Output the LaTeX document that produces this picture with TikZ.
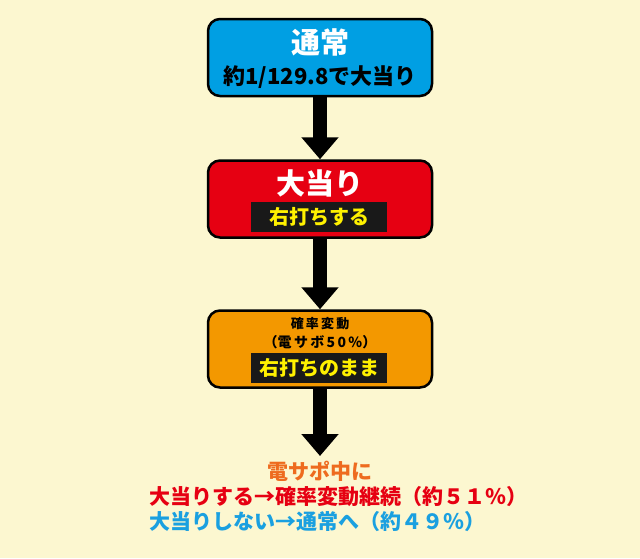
\documentclass[tikz,border=0pt]{standalone}
\usepackage{fontspec}
\setmainfont{Noto Sans CJK JP}
\usetikzlibrary{arrows.meta}
\definecolor{bg}{HTML}{FCF7D0}
\definecolor{cblue}{HTML}{009FE3}
\definecolor{cred}{HTML}{E60012}
\definecolor{corange}{HTML}{F39800}
\definecolor{cyel}{HTML}{FFF100}
\definecolor{torange}{HTML}{EE6B1E}
\definecolor{tblue}{HTML}{1AA0E0}
\begin{document}
\begin{tikzpicture}[x=1pt,y=-1pt,
  box/.style={draw=black,line width=2.5pt,rounded corners=12pt,minimum width=224pt,minimum height=77pt},
  lab/.style={fill=black!90,text=cyel,font=\bfseries\fontsize{20}{22}\selectfont,minimum width=136pt,minimum height=30pt,inner sep=0pt},
  arr/.style={line width=14pt,-{Triangle[width=36pt,length=22pt]}},
  bot/.style={font=\bfseries\fontsize{21}{23}\selectfont},
  font=\bfseries]
\fill[bg] (0,0) rectangle (640,558);
\node[box,fill=cblue] (b1) at (320,57.5) {};
\node[box,fill=cred] (b2) at (320,199) {};
\node[box,fill=corange] (b3) at (320,349) {};
\node[text=white,font=\bfseries\fontsize{29}{31}\selectfont] (t1) at (320,42) {通常};
\node[font=\bfseries\fontsize{22}{24}\selectfont] (t1b) at (320,77) {約1/129.8で大当り};
\node[text=white,font=\bfseries\fontsize{29}{31}\selectfont] (t2) at (320,183) {大当り};
\node[lab] (l2) at (319,217) {右打ちする};
\node[font=\bfseries\fontsize{13}{15}\selectfont] (t3) at (320,324) {確\,率\,変\,動};
\node[font=\bfseries\fontsize{14}{16}\selectfont] (t3b) at (320,342) {（電\,サ\,ボ\,5\,0\,\%）};
\node[lab] (l3) at (319,368) {右打ちのまま};
\coordinate (e3) at (320,456);
\draw[arr] (b1.south) -- (b2.north);
\draw[arr] (b2.south) -- (b3.north);
\draw[arr] (b3.south) -- (e3);
\node[bot,text=torange] (m1) at (320,471) {電サポ中に};
\node[bot,text=cred,anchor=west] (m2) at (146,497) {大当りする→確率変動継続（約５１％）};
\node[bot,text=tblue,anchor=west] (m3) at (146,522) {大当りしない→通常へ（約４９％）};
\end{tikzpicture}
\end{document}
